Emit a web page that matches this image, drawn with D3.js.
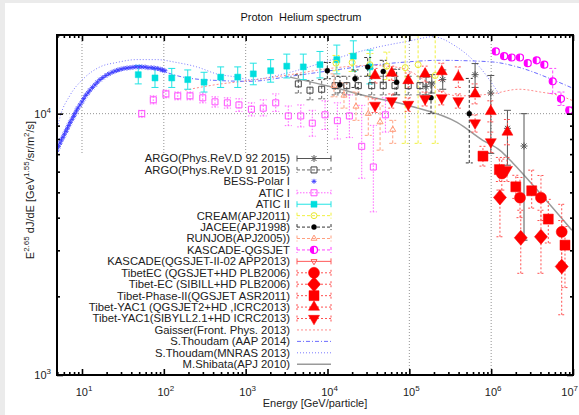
<!DOCTYPE html>
<html><head><meta charset="utf-8">
<script src="https://cdn.jsdelivr.net/npm/d3@7"></script>
<style>body{margin:0;background:#fff;} svg{display:block;font-family:"Liberation Sans",Arial,sans-serif;}</style>
</head><body><svg id="c" width="579" height="415"></svg>
<script>
// ---------------- DATA ----------------
const xMajorTicks = [10, 1e2, 1e3, 1e4, 1e5, 1e6, 1e7];
const yMajorTicks = [1e3, 1e4];
const xTickExp = ["1","2","3","4","5","6","7"];
const yTickExp = ["3","4"];

const bessE = [4.95,5.15,5.4,5.6,5.86,6.1,6.4,6.65,6.9,7.2,7.55,7.9,8.2,8.55,8.9,9.45,10,10.5,11.1,11.8,12.5,13.4,14.4,15.4,16.6,18,19.6,21.3,23.3,25.3,27.5,30,32.6,35.5,38.6,42,45.7,50,54,59,64,70,76,83,90,96,103];
const bessY = [7250,7480,7710,7920,8120,8340,8560,8800,9020,9260,9510,9760,10000,10250,10500,10800,11100,11420,11750,12000,12300,12600,12900,13200,13500,13750,14000,14200,14400,14550,14700,14800,14900,14950,15000,15050,15100,15100,15100,15080,15000,15000,14950,14900,14800,14700,14600];

const aticIIE  = [48.7,78,125,196,310,495,800,1240,2020,3180,5060,8090,13000,20700,33000];
const aticIIY  = [14100,13700,13700,13500,13200,13800,13800,14200,14600,15200,15100,15400,16100,16600,15100];
const aticIILo = [13000,12600,12600,12400,12100,12600,12600,12900,13200,13700,13500,13700,14200,14500,13000];
const aticIIHi = [15300,14900,14900,14700,14400,15100,15100,15600,16100,16900,16900,17300,18300,19000,17500];

const aticIE  = [53.7,74.3,106,148,209,299,422,597,828,1175,1640,2330,3320,4710,6520,9330,13200,18500,26200,36300,51000];
const aticIY  = [10000,11300,11900,11700,11700,11500,11100,11000,10800,10400,10500,11000,9800,9800,9200,9900,9400,9800,7500,6250,9900];
const aticILo = [9700,10900,11500,11300,11300,11000,10600,10500,10200,9800,9800,10200,9000,8900,8200,8700,8000,8100,5660,4210,8500];
const aticIHi = [10300,11700,12300,12100,12100,12000,11600,11500,11400,11000,11300,11900,10700,10800,10300,11200,11000,11800,10760,9020,11500];

const jaceeE  = [9950,14200,21700,31000,48000,70000,184000,540000];
const jaceeY  = [14600,12900,13600,15100,14500,13200,11500,10000];
const jaceeLo = [13600,12000,12600,13900,13200,11800,10000,6480];
const jaceeHi = [15700,13900,14700,16400,16000,14800,13200,13640];

const creamE  = [12700,20000,33000,53000,89000,128000,207000];
const creamY  = [15600,15700,15400,15200,15000,15400,14000];
const creamLo = [14600,14500,14000,13500,7700,7700,7700];
const creamHi = [16700,17000,17000,17200,19900,19900,19900];

const runjobE  = [12000,15900,22300,31500,43900,62700];
const runjobY  = [12800,11750,10660,10000,9290,8690];
const runjobLo = [11600,10500,9430,8260,7250,7700];
const runjobHi = [14200,13100,12100,11600,10700,9430];

const argo91E  = [4400,6110,8490,12400,17200,23800,34700,48000,66800,97000,135000];
const argo91Y  = [13000,12300,12400,12800,12800,12800,12800,12800,12800,12800,12800];
const argo91Lo = [12000,11300,11400,11800,11800,11800,11800,11800,11800,11800,11800];
const argo91Hi = [14100,13400,13500,13900,13900,13900,13900,13900,13900,13900,13900];

const argo92E  = [160000,188000,256000,636000,990000,1580000,2520000];
const argo92Y  = [12700,13000,13500,14100,12000,8790,7520];
const argo92Lo = [11800,12000,12400,12600,7050,6350,3280];
const argo92Hi = [13800,14100,14700,15550,14000,10300,10000];

const kascadeE  = [1.14e6,1.44e6,1.78e6,2.25e6,2.8e6,3.6e6,4.46e6,5.65e6,7.13e6,9.0e6];
const kascadeY  = [17300,16600,16400,16400,15600,16000,15400,13300,11400,10300];
const kascadeLo = [17000,16300,16100,16100,15300,15700,15100,11950,10750,10000];
const kascadeHi = [17600,16900,16700,16700,15900,16300,15700,14900,12100,10600];

const tibQE  = [1.35e6,2.25e6,4.06e6,7.28e6];
const tibQY  = [5900,4770,4770,3530];
const tibQLo = [5100,4000,3900,2700];
const tibQHi = [6700,5700,5800,4500];

const tibSE  = [1.28e6,2.3e6,4.06e6,7.28e6];
const tibSY  = [4780,3350,3380,2600];
const tibSLo = [3380,2450,2450,1700];
const tibSHi = [5100,4270,4270,3900];

const tibPE  = [7.94e5,1.26e6,2.0e6,3.13e6,4.99e6,7.98e6];
const tibPY  = [6880,6110,5250,5070,3950,3140];
const tibPLo = [6300,5500,4740,4350,3200,2160];
const tibPHi = [7500,6800,5810,6080,4700,3700];

const yacQE  = [3.81e4,6.1e4,9.7e4,1.56e5,2.49e5,3.97e5,6.36e5,9.9e5,1.58e6];
const yacQY  = [14000,14300,13400,14200,14500,13800,11900,10200,8510];
const yacQLo = [13100,13400,12500,13200,13400,12600,10900,9300,7600];
const yacQHi = [14900,15200,14300,15200,15600,15100,13000,11200,9500];

const yacSE  = [3.81e4,6.1e4,9.7e4,1.56e5,2.49e5,3.97e5,6.36e5,9.9e5,1.56e6];
const yacSY  = [10760,11200,10850,11400,11500,11200,9210,7800,6110];
const yacSLo = [10100,10500,10200,10700,10800,10500,8500,7100,5500];
const yacSHi = [11400,11900,11500,12100,12200,11900,9900,8500,6800];

const gaisserE = [182,422,1120,3490,10700,33000,77000,150000,240000,400000,1000000,2200000,4000000,7000000,1e7];
const gaisserY = [12300,12900,13400,14100,14900,15300,15000,13500,12200,11700,11900,12400,12100,11700,11200];

const thoudamAapE = [4.95,7.13,10,16.6,29,51,89.7,171,442,1130,3490,10700,33000,77000,236000,970000,2250000,5300000,1e7];
const thoudamAapY = [7380,9440,11100,13400,14600,15100,14600,13800,13400,13300,13900,14600,15300,15700,16000,15800,15000,13600,12500];

const thoudamMnE = [4.93,5.39,7.13,10.4,16.6,26.6,46.6,81.6,143,253,442,777,1130,3490,10700,33000,102000,195000,360000,720000,1280000];
const thoudamMnY = [8640,9700,11750,13600,15100,15700,16100,16100,15700,15100,14200,13800,13500,14400,16000,17700,19000,19700,18200,15100,11750];

const shibataE = [3480,10700,33100,102000,383000,790000,1280000,1850000,3950000,9700000];
const shibataY = [13800,12700,11600,10700,9260,7910,7240,6460,4960,3580];

const legendLabels = [
 "ARGO(Phys.ReV.D 92 2015)","ARGO(Phys.ReV.D 91 2015)","BESS-Polar I","ATIC I","ATIC II",
 "CREAM(APJ2011)","JACEE(APJ1998)","RUNJOB(APJ2005))","KASCADE-QGSJET","KASCADE(QGSJET-II-02 APP2013)",
 "TibetEC (QGSJET+HD PLB2006)","Tibet-EC (SIBILL+HD PLB2006)","Tibet-Phase-II(QGSJET ASR2011)",
 "Tibet-YAC1 (QGSJET2+HD ,ICRC2013)","Tibet-YAC1(SIBYLL2.1+HD ICRC2013)","Gaisser(Front. Phys. 2013)",
 "S.Thoudam (AAP 2014)","S.Thoudam(MNRAS 2013)","M.Shibata(APJ 2010)"];

// ---------------- CHART ----------------
const svg = d3.select("#c");
const W = 579, H = 415;
const L = 57, R = 573, T = 35, B = 375;
const x = d3.scaleLog().domain([4.95, 1e7]).range([L, R]);
const y = d3.scaleLog().domain([1e3, 2e4]).range([B, T]);

svg.append("rect").attr("width", W).attr("height", H).attr("fill", "#ebebeb");
svg.append("rect").attr("x", 5).attr("y", 3).attr("width", W-5).attr("height", H-3).attr("fill", "#fff");

svg.append("text").attr("x", 301).attr("y", 21).attr("text-anchor","middle")
  .attr("font-size", 11).attr("fill","#111").style("white-space","pre").text("Proton  Helium spectrum");

// grid
const grid = svg.append("g").attr("stroke","#777").attr("stroke-width",0.8).attr("stroke-dasharray","1,2");
[10,1e2,1e3,1e4,1e5,1e6].forEach(v => grid.append("line").attr("x1",x(v)).attr("x2",x(v)).attr("y1",T).attr("y2",B));
grid.append("line").attr("x1",L).attr("x2",R).attr("y1",y(1e4)).attr("y2",y(1e4));

// legend box (opaque)
const keyBox = {x0: 62, x1: 338, y0: 153, y1: 374};
svg.append("rect").attr("x",keyBox.x0).attr("y",keyBox.y0).attr("width",keyBox.x1-keyBox.x0)
  .attr("height",keyBox.y1-keyBox.y0).attr("fill","#fff");

svg.append("defs").append("clipPath").attr("id","clip").append("rect")
  .attr("x",L).attr("y",T).attr("width",R-L).attr("height",B-T);
const plot = svg.append("g").attr("clip-path","url(#clip)");

// symbols
function symPath(type, s){
  const h = s/2;
  switch(type){
    case "sq": return d3.symbol(d3.symbolSquare, s*s)();
    case "circ": return d3.symbol(d3.symbolCircle, Math.PI*h*h)();
    case "tri": return d3.symbol(d3.symbolTriangle, Math.sqrt(3)/4*s*s)();
    case "diam": return `M0,${-h*1.15}L${h},0L0,${h*1.15}L${-h},0Z`;
    case "star": {const d=h*0.72; return `M${-h},0L${h},0M0,${-h}L0,${h}M${-d},${-d}L${d},${d}M${-d},${d}L${d},${-d}`;}
  }
}
function drawMarker(g, m, cx, cy){
  const t = `translate(${cx},${cy})` + (m.rot ? " rotate(180)" : "");
  if (m.shape === "star"){
    g.append("path").attr("d", symPath("star", m.size)).attr("transform", t)
      .attr("stroke", m.color).attr("stroke-width", m.sw || 1).attr("fill","none");
  } else if (m.half){
    g.append("path").attr("d", symPath("circ", m.size)).attr("transform", t)
      .attr("fill","#fff").attr("stroke", m.color).attr("stroke-width",1.2);
    const r = m.size/2;
    g.append("path").attr("d", `M0,${-r}A${r},${r} 0 0 0 0,${r}Z`).attr("transform", t).attr("fill", m.color);
  } else {
    g.append("path").attr("d", symPath(m.shape, m.size)).attr("transform", t)
      .attr("fill", m.filled ? m.color : "#fff").attr("fill-opacity", m.filled ? 1 : 0)
      .attr("stroke", m.color).attr("stroke-width", m.filled ? 0.5 : 1);
  }
}

const series = [
 {label:0, E:argo92E, Y:argo92Y, lo:argo92Lo, hi:argo92Hi, color:"#555", bar:"#555", dash:null, shape:"star", size:7, filled:false},
 {label:1, E:argo91E, Y:argo91Y, lo:argo91Lo, hi:argo91Hi, color:"#444", bar:"#666", dash:"3,2", shape:"sq", size:6, filled:false},
 {label:2, E:bessE, Y:bessY, color:"#3c3cff", shape:"star", size:5, sw:0.9},
 {label:3, E:aticIE, Y:aticIY, lo:aticILo, hi:aticIHi, color:"#ff4cff", bar:"#ff66ff", dash:"1.5,1.5", shape:"sq", size:6, filled:false},
 {label:4, E:aticIIE, Y:aticIIY, lo:aticIILo, hi:aticIIHi, color:"#00dede", bar:"#22e4e4", dash:null, shape:"sq", size:6, filled:true},
 {label:5, E:creamE, Y:creamY, lo:creamLo, hi:creamHi, color:"#e8e830", bar:"#f0f040", dash:"3,2", shape:"circ", size:6, filled:false},
 {label:6, E:jaceeE, Y:jaceeY, lo:jaceeLo, hi:jaceeHi, color:"#000", bar:"#333", dash:"3,2", shape:"circ", size:5, filled:true},
 {label:7, E:runjobE, Y:runjobY, lo:runjobLo, hi:runjobHi, color:"#ff9a7a", bar:"#ffa080", dash:"3,2", shape:"tri", size:6, filled:false},
 {label:8, E:kascadeE, Y:kascadeY, lo:kascadeLo, hi:kascadeHi, color:"#ff00ff", bar:"#ff44ff", dash:"3,2", shape:"circ", size:7, half:true},
 {label:9, E:[], Y:[], color:"#ff5a5a", bar:"#ff5a5a", dash:null, shape:"tri", size:6, filled:false, rot:true},
 {label:10, E:tibQE, Y:tibQY, lo:tibQLo, hi:tibQHi, color:"#ff0000", bar:"#ff5050", dash:"2,2", shape:"circ", size:11, filled:true},
 {label:11, E:tibSE, Y:tibSY, lo:tibSLo, hi:tibSHi, color:"#ff0000", bar:"#ff5050", dash:"2,2", shape:"diam", size:13, filled:true},
 {label:12, E:tibPE, Y:tibPY, lo:tibPLo, hi:tibPHi, color:"#ff0000", bar:"#ff5050", dash:"2,2", shape:"sq", size:10, filled:true},
 {label:13, E:yacQE, Y:yacQY, lo:yacQLo, hi:yacQHi, color:"#ff0000", bar:"#ff5050", dash:"2,2", shape:"tri", size:11, filled:true},
 {label:14, E:yacSE, Y:yacSY, lo:yacSLo, hi:yacSHi, color:"#ff0000", bar:"#ff5050", dash:"2,2", shape:"tri", size:11, filled:true, rot:true}
];
const curves = [
 {label:15, E:gaisserE, Y:gaisserY, color:"#ff8c8c", dash:"2,2", width:1},
 {label:16, E:thoudamAapE, Y:thoudamAapY, color:"#6b6bff", dash:"4,2,1,2", width:1},
 {label:17, E:thoudamMnE, Y:thoudamMnY, color:"#7a7aff", dash:"1,2", width:1},
 {label:18, E:shibataE, Y:shibataY, color:"#9a9a9a", dash:null, width:1.5}
];

const line = d3.line().x(d => x(d[0])).y(d => y(d[1])).curve(d3.curveMonotoneX);
curves.forEach(c => {
  plot.append("path").attr("d", line(c.E.map((e,i)=>[e,c.Y[i]]))).attr("fill","none")
    .attr("stroke", c.color).attr("stroke-width", c.width).attr("stroke-dasharray", c.dash);
});

// error bars then markers
const cap = 3.5;
series.forEach(s => {
  if (!s.lo) return;
  const g = plot.append("g").attr("stroke", s.bar).attr("stroke-width", 1).attr("stroke-dasharray", s.dash);
  s.E.forEach((e,i) => {
    const cx = x(e);
    g.append("line").attr("x1",cx).attr("x2",cx).attr("y1",y(s.lo[i])).attr("y2",y(s.hi[i]));
    g.append("line").attr("x1",cx-cap).attr("x2",cx+cap).attr("y1",y(s.lo[i])).attr("y2",y(s.lo[i]));
    g.append("line").attr("x1",cx-cap).attr("x2",cx+cap).attr("y1",y(s.hi[i])).attr("y2",y(s.hi[i]));
  });
});
series.forEach(s => {
  const g = plot.append("g");
  s.E.forEach((e,i) => drawMarker(g, s, x(e), y(s.Y[i])));
});

// axes (ticks inward, mirrored)
function minorVals(lo, hi){ const v=[]; for(let p=lo;p<hi;p++) for(let k=2;k<10;k++) v.push(k*Math.pow(10,p)); return v; }
const xMinor = minorVals(0,7).filter(v => v>=4.95 && v<=1e7);
const yMinor = minorVals(3,5).filter(v => v<=2e4);
function styleAxis(g){ g.select(".domain").remove(); g.selectAll("line").attr("stroke","#000").attr("stroke-width",1.6); g.selectAll("text").remove(); }
svg.append("g").attr("transform",`translate(0,${B})`).call(d3.axisBottom(x).tickValues(xMinor).tickSize(-3)).call(styleAxis);
svg.append("g").attr("transform",`translate(0,${B})`).call(d3.axisBottom(x).tickValues(xMajorTicks).tickSize(-6)).call(styleAxis);
svg.append("g").attr("transform",`translate(0,${T})`).call(d3.axisTop(x).tickValues(xMinor).tickSize(-3)).call(styleAxis);
svg.append("g").attr("transform",`translate(0,${T})`).call(d3.axisTop(x).tickValues(xMajorTicks).tickSize(-6)).call(styleAxis);
svg.append("g").attr("transform",`translate(${L},0)`).call(d3.axisLeft(y).tickValues(yMinor).tickSize(-3)).call(styleAxis);
svg.append("g").attr("transform",`translate(${L},0)`).call(d3.axisLeft(y).tickValues(yMajorTicks).tickSize(-6)).call(styleAxis);
svg.append("g").attr("transform",`translate(${R},0)`).call(d3.axisRight(y).tickValues(yMinor).tickSize(-3)).call(styleAxis);
svg.append("g").attr("transform",`translate(${R},0)`).call(d3.axisRight(y).tickValues(yMajorTicks).tickSize(-6)).call(styleAxis);

// tick labels
xMajorTicks.forEach((v,i) => {
  const last = i === xMajorTicks.length-1;
  const t = svg.append("text").attr("x", last ? 578 : x(v)+2).attr("y", 396)
    .attr("text-anchor", last ? "end" : "middle").attr("font-size",11).attr("fill","#222");
  t.append("tspan").text("10");
  t.append("tspan").attr("dy",-5).attr("font-size",8).text(xTickExp[i]);
});
yMajorTicks.forEach((v,i) => {
  const t = svg.append("text").attr("x", 51).attr("y", y(v)+4).attr("text-anchor","end").attr("font-size",11).attr("fill","#222");
  t.append("tspan").text("10");
  t.append("tspan").attr("dy",-5).attr("font-size",8).text(yTickExp[i]);
});

// axis titles
svg.append("text").attr("x",315).attr("y",407).attr("text-anchor","middle").attr("font-size",11).attr("fill","#222").text("Energy [GeV/particle]");
const yl = svg.append("text").attr("transform","translate(34,190) rotate(-90)").attr("text-anchor","middle").attr("font-size",11).attr("fill","#222");
yl.append("tspan").text("E");
yl.append("tspan").attr("dy",-5).attr("font-size",8).text("2.65");
yl.append("tspan").attr("dy",5).text(" dJ/dE [GeV");
yl.append("tspan").attr("dy",-5).attr("font-size",8).text("1.55");
yl.append("tspan").attr("dy",5).text("/sr/m");
yl.append("tspan").attr("dy",-5).attr("font-size",8).text("2");
yl.append("tspan").attr("dy",5).text("/s]");

// legend
const leg = svg.append("g");
const rowY = i => 158.5 + i*11.43;
const sx0 = 297, sx1 = 331, sxm = 314;
legendLabels.forEach((lab,i) => {
  leg.append("text").attr("x",290).attr("y",rowY(i)+3.9).attr("text-anchor","end").attr("font-size",11.3).attr("fill","#222").text(lab);
});
series.forEach(s => {
  const yy = rowY(s.label);
  if (s.bar){
    const g = leg.append("g").attr("stroke", s.bar).attr("stroke-width",1).attr("stroke-dasharray", s.dash);
    g.append("line").attr("x1",sx0).attr("x2",sx1).attr("y1",yy).attr("y2",yy);
    g.append("line").attr("x1",sx0).attr("x2",sx0).attr("y1",yy-3).attr("y2",yy+3).attr("stroke-dasharray",null);
    g.append("line").attr("x1",sx1).attr("x2",sx1).attr("y1",yy-3).attr("y2",yy+3).attr("stroke-dasharray",null);
  }
  drawMarker(leg, s, sxm, yy);
});
curves.forEach(c => {
  const yy = rowY(c.label);
  leg.append("line").attr("x1",sx0).attr("x2",sx1).attr("y1",yy).attr("y2",yy)
    .attr("stroke",c.color).attr("stroke-width",c.width).attr("stroke-dasharray",c.dash);
});

// frame
svg.append("rect").attr("x",L).attr("y",T).attr("width",R-L).attr("height",B-T)
  .attr("fill","none").attr("stroke","#000").attr("stroke-width",2);
</script></body></html>
